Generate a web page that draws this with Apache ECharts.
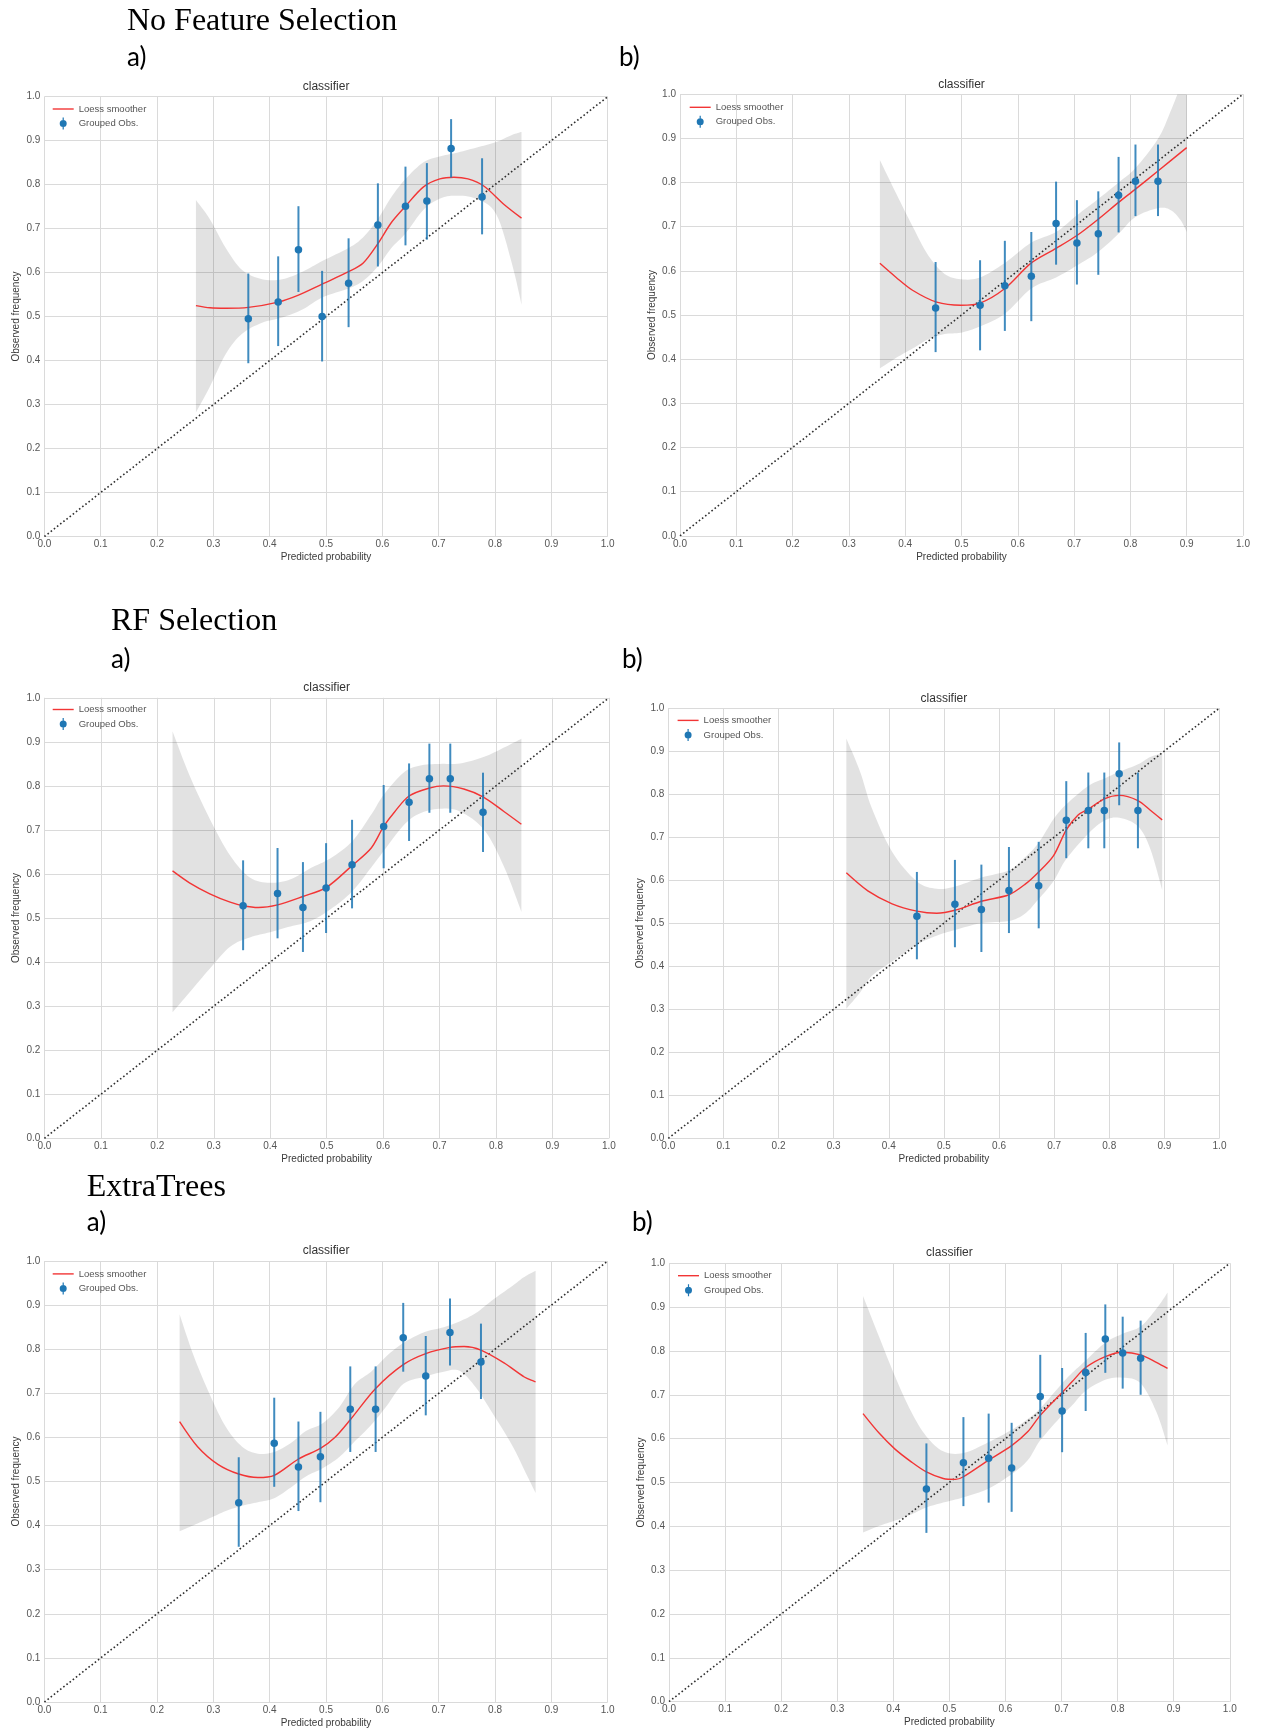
<!DOCTYPE html>
<html>
<head>
<meta charset="utf-8">
<script src="https://cdn.jsdelivr.net/npm/echarts@6/dist/echarts.min.js"></script>
<style>
html,body{margin:0;padding:0;background:#ffffff;}
#main{width:1261px;height:1728px;}
</style>
</head>
<body>
<div id="main"></div>
<script>
// ---------------- text ----------------
const sectionTitles = ['No Feature Selection', 'RF Selection', 'ExtraTrees'];
const panelLetters = ['a)', 'b)'];
const plotTitle = 'classifier';
const xAxisName = 'Predicted probability';
const yAxisName = 'Observed frequency';
const legendNames = ['Loess smoother', 'Grouped Obs.'];
const axisMin = 0, axisMax = 1, axisStep = 0.1;   // ticks 0.0 ... 1.0
const diagonal = [[0, 0], [1, 1]];

// ---------------- No Feature Selection a) ----------------
const nfsA_obsX  = [0.362, 0.415, 0.451, 0.493, 0.540, 0.592, 0.641, 0.679, 0.722, 0.777];
const nfsA_obsY  = [0.495, 0.533, 0.652, 0.500, 0.576, 0.708, 0.751, 0.763, 0.882, 0.772];
const nfsA_errLo = [0.394, 0.433, 0.556, 0.398, 0.476, 0.614, 0.662, 0.675, 0.816, 0.687];
const nfsA_errHi = [0.598, 0.637, 0.751, 0.604, 0.678, 0.803, 0.841, 0.849, 0.949, 0.860];
const nfsA_loessX = [0.269, 0.294, 0.322, 0.362, 0.415, 0.451, 0.493, 0.540, 0.566, 0.592, 0.616, 0.641, 0.673, 0.702, 0.727, 0.752, 0.780, 0.816, 0.847];
const nfsA_loessY = [0.525, 0.520, 0.519, 0.521, 0.533, 0.549, 0.574, 0.602, 0.622, 0.666, 0.714, 0.751, 0.795, 0.813, 0.817, 0.813, 0.797, 0.755, 0.724];
const nfsA_bandX  = [0.269, 0.2935, 0.322, 0.351, 0.3865, 0.422, 0.458, 0.494, 0.540, 0.5655, 0.592, 0.616, 0.641, 0.673, 0.7015, 0.730, 0.766, 0.802, 0.830, 0.847];
const nfsA_bandLo = [0.282, 0.340, 0.415, 0.461, 0.486, 0.498, 0.516, 0.544, 0.564, 0.581, 0.614, 0.656, 0.689, 0.743, 0.768, 0.775, 0.768, 0.733, 0.620, 0.527];
const nfsA_bandHi = [0.765, 0.722, 0.656, 0.606, 0.585, 0.585, 0.602, 0.627, 0.656, 0.680, 0.722, 0.772, 0.813, 0.851, 0.864, 0.872, 0.884, 0.897, 0.913, 0.920];

// ---------------- No Feature Selection b) ----------------
const nfsB_obsX  = [0.454, 0.533, 0.577, 0.624, 0.668, 0.705, 0.743, 0.779, 0.809, 0.849];
const nfsB_obsY  = [0.516, 0.522, 0.566, 0.588, 0.707, 0.663, 0.684, 0.771, 0.803, 0.803];
const nfsB_errLo = [0.416, 0.420, 0.464, 0.486, 0.614, 0.569, 0.591, 0.687, 0.724, 0.724];
const nfsB_errHi = [0.620, 0.624, 0.668, 0.688, 0.802, 0.760, 0.780, 0.858, 0.886, 0.886];
const nfsB_loessX = [0.355, 0.384, 0.413, 0.456, 0.499, 0.533, 0.577, 0.624, 0.668, 0.705, 0.743, 0.779, 0.809, 0.849, 0.900];
const nfsB_loessY = [0.617, 0.585, 0.556, 0.529, 0.522, 0.527, 0.560, 0.618, 0.651, 0.680, 0.717, 0.755, 0.785, 0.826, 0.879];
const nfsB_bandX  = [0.355, 0.384, 0.413, 0.441, 0.470, 0.499, 0.533, 0.577, 0.624, 0.668, 0.705, 0.743, 0.779, 0.809, 0.849, 0.871, 0.889, 0.900];
const nfsB_bandLo = [0.379, 0.403, 0.424, 0.445, 0.457, 0.460, 0.474, 0.503, 0.560, 0.585, 0.612, 0.643, 0.684, 0.722, 0.742, 0.738, 0.715, 0.688];
const nfsB_bandHi = [0.851, 0.775, 0.701, 0.635, 0.593, 0.581, 0.585, 0.618, 0.664, 0.688, 0.726, 0.763, 0.800, 0.833, 0.899, 0.960, 1.020, 1.070];

// ---------------- RF Selection a) ----------------
const rfA_obsX  = [0.352, 0.413, 0.458, 0.499, 0.545, 0.601, 0.646, 0.682, 0.719, 0.777];
const rfA_obsY  = [0.528, 0.556, 0.524, 0.568, 0.621, 0.708, 0.763, 0.816, 0.816, 0.740];
const rfA_errLo = [0.427, 0.454, 0.423, 0.466, 0.522, 0.613, 0.675, 0.739, 0.739, 0.650];
const rfA_errHi = [0.631, 0.659, 0.627, 0.670, 0.723, 0.802, 0.851, 0.896, 0.896, 0.830];
const rfA_loessX = [0.227, 0.257, 0.293, 0.329, 0.352, 0.379, 0.413, 0.458, 0.499, 0.545, 0.579, 0.601, 0.621, 0.646, 0.682, 0.707, 0.743, 0.777, 0.814, 0.845];
const rfA_loessY = [0.607, 0.580, 0.555, 0.536, 0.528, 0.524, 0.530, 0.549, 0.569, 0.619, 0.659, 0.708, 0.742, 0.777, 0.795, 0.800, 0.793, 0.775, 0.742, 0.713];
const rfA_bandX  = [0.227, 0.257, 0.293, 0.329, 0.364, 0.400, 0.436, 0.471, 0.507, 0.545, 0.579, 0.601, 0.636, 0.664, 0.700, 0.736, 0.779, 0.814, 0.845];
const rfA_bandLo = [0.286, 0.331, 0.385, 0.435, 0.456, 0.468, 0.481, 0.493, 0.520, 0.560, 0.615, 0.652, 0.710, 0.737, 0.748, 0.742, 0.700, 0.617, 0.514];
const rfA_bandHi = [0.924, 0.824, 0.725, 0.642, 0.592, 0.580, 0.588, 0.613, 0.636, 0.674, 0.735, 0.780, 0.830, 0.846, 0.850, 0.851, 0.866, 0.887, 0.907];

// ---------------- RF Selection b) ----------------
const rfB_obsX  = [0.451, 0.520, 0.568, 0.618, 0.672, 0.722, 0.762, 0.791, 0.818, 0.852];
const rfB_obsY  = [0.516, 0.544, 0.532, 0.576, 0.587, 0.739, 0.762, 0.762, 0.847, 0.762];
const rfB_errLo = [0.416, 0.444, 0.433, 0.477, 0.488, 0.651, 0.674, 0.674, 0.774, 0.674];
const rfB_errHi = [0.619, 0.647, 0.636, 0.677, 0.689, 0.830, 0.850, 0.850, 0.920, 0.850];
const rfB_loessX = [0.323, 0.362, 0.406, 0.451, 0.487, 0.520, 0.568, 0.618, 0.647, 0.672, 0.699, 0.722, 0.743, 0.762, 0.791, 0.818, 0.852, 0.874, 0.896];
const rfB_loessY = [0.617, 0.575, 0.545, 0.528, 0.523, 0.530, 0.551, 0.566, 0.590, 0.619, 0.657, 0.717, 0.751, 0.765, 0.789, 0.797, 0.785, 0.763, 0.740];
const rfB_bandX  = [0.323, 0.348, 0.369, 0.406, 0.451, 0.487, 0.520, 0.568, 0.618, 0.647, 0.672, 0.699, 0.722, 0.762, 0.791, 0.818, 0.852, 0.874, 0.896];
const rfB_bandLo = [0.301, 0.339, 0.377, 0.411, 0.450, 0.471, 0.484, 0.500, 0.505, 0.522, 0.556, 0.598, 0.649, 0.708, 0.738, 0.745, 0.725, 0.674, 0.577];
const rfB_bandHi = [0.929, 0.852, 0.768, 0.666, 0.597, 0.580, 0.585, 0.606, 0.623, 0.653, 0.687, 0.742, 0.776, 0.819, 0.836, 0.852, 0.869, 0.886, 0.895];

// ---------------- ExtraTrees a) ----------------
const etA_obsX  = [0.345, 0.408, 0.451, 0.490, 0.543, 0.588, 0.637, 0.677, 0.720, 0.775];
const etA_obsY  = [0.452, 0.587, 0.533, 0.556, 0.664, 0.664, 0.826, 0.739, 0.838, 0.771];
const etA_errLo = [0.352, 0.488, 0.433, 0.453, 0.567, 0.567, 0.749, 0.650, 0.763, 0.687];
const etA_errHi = [0.555, 0.690, 0.636, 0.658, 0.761, 0.761, 0.905, 0.830, 0.915, 0.858];
const etA_loessX = [0.240, 0.272, 0.308, 0.345, 0.379, 0.408, 0.451, 0.490, 0.515, 0.543, 0.588, 0.637, 0.677, 0.720, 0.745, 0.775, 0.816, 0.852, 0.872];
const etA_loessY = [0.636, 0.579, 0.539, 0.517, 0.509, 0.514, 0.551, 0.575, 0.599, 0.640, 0.711, 0.765, 0.790, 0.804, 0.806, 0.798, 0.769, 0.737, 0.726];
const etA_bandX  = [0.240, 0.265, 0.294, 0.322, 0.351, 0.379, 0.408, 0.437, 0.465, 0.494, 0.523, 0.551, 0.580, 0.608, 0.637, 0.673, 0.709, 0.737, 0.766, 0.795, 0.830, 0.852, 0.872];
const etA_bandLo = [0.387, 0.401, 0.417, 0.433, 0.445, 0.453, 0.462, 0.486, 0.512, 0.530, 0.555, 0.591, 0.628, 0.672, 0.721, 0.737, 0.749, 0.751, 0.713, 0.656, 0.583, 0.526, 0.474];
const etA_bandHi = [0.879, 0.785, 0.696, 0.624, 0.579, 0.563, 0.567, 0.587, 0.615, 0.632, 0.668, 0.721, 0.749, 0.785, 0.814, 0.838, 0.850, 0.863, 0.882, 0.911, 0.943, 0.964, 0.978];

// ---------------- ExtraTrees b) ----------------
const etB_obsX  = [0.459, 0.525, 0.570, 0.611, 0.662, 0.701, 0.743, 0.778, 0.809, 0.841];
const etB_obsY  = [0.485, 0.545, 0.555, 0.533, 0.696, 0.663, 0.751, 0.827, 0.795, 0.783];
const etB_errLo = [0.385, 0.446, 0.454, 0.433, 0.602, 0.569, 0.663, 0.750, 0.714, 0.700];
const etB_errHi = [0.589, 0.649, 0.657, 0.636, 0.791, 0.761, 0.841, 0.906, 0.878, 0.869];
const etB_loessX = [0.346, 0.375, 0.403, 0.432, 0.459, 0.489, 0.511, 0.525, 0.570, 0.611, 0.640, 0.662, 0.701, 0.719, 0.743, 0.778, 0.809, 0.841, 0.869, 0.889];
const etB_loessY = [0.657, 0.612, 0.576, 0.547, 0.524, 0.509, 0.507, 0.513, 0.551, 0.584, 0.616, 0.653, 0.705, 0.730, 0.762, 0.787, 0.797, 0.791, 0.774, 0.760];
const etB_bandX  = [0.346, 0.375, 0.403, 0.432, 0.459, 0.489, 0.525, 0.570, 0.611, 0.640, 0.662, 0.701, 0.719, 0.743, 0.778, 0.809, 0.841, 0.869, 0.889];
const etB_bandLo = [0.386, 0.401, 0.413, 0.427, 0.443, 0.454, 0.466, 0.486, 0.519, 0.551, 0.596, 0.653, 0.676, 0.709, 0.734, 0.739, 0.726, 0.661, 0.584];
const etB_bandHi = [0.925, 0.831, 0.742, 0.661, 0.605, 0.571, 0.567, 0.592, 0.620, 0.645, 0.669, 0.726, 0.750, 0.778, 0.819, 0.839, 0.856, 0.896, 0.933];

// ---------------- assemble (references to the arrays above) ----------------
const panels = [
  {obsX: nfsA_obsX, obsY: nfsA_obsY, lo: nfsA_errLo, hi: nfsA_errHi, lx: nfsA_loessX, ly: nfsA_loessY, bx: nfsA_bandX, bl: nfsA_bandLo, bh: nfsA_bandHi},
  {obsX: nfsB_obsX, obsY: nfsB_obsY, lo: nfsB_errLo, hi: nfsB_errHi, lx: nfsB_loessX, ly: nfsB_loessY, bx: nfsB_bandX, bl: nfsB_bandLo, bh: nfsB_bandHi},
  {obsX: rfA_obsX, obsY: rfA_obsY, lo: rfA_errLo, hi: rfA_errHi, lx: rfA_loessX, ly: rfA_loessY, bx: rfA_bandX, bl: rfA_bandLo, bh: rfA_bandHi},
  {obsX: rfB_obsX, obsY: rfB_obsY, lo: rfB_errLo, hi: rfB_errHi, lx: rfB_loessX, ly: rfB_loessY, bx: rfB_bandX, bl: rfB_bandLo, bh: rfB_bandHi},
  {obsX: etA_obsX, obsY: etA_obsY, lo: etA_errLo, hi: etA_errHi, lx: etA_loessX, ly: etA_loessY, bx: etA_bandX, bl: etA_bandLo, bh: etA_bandHi},
  {obsX: etB_obsX, obsY: etB_obsY, lo: etB_errLo, hi: etB_errHi, lx: etB_loessX, ly: etB_loessY, bx: etB_bandX, bl: etB_bandLo, bh: etB_bandHi}
];

// ---------------- layout (pixels) ----------------
const gridBoxes = [
  [44.4, 96.7, 563.3, 439.8],
  [680, 94.2, 563, 441.6],
  [44.4, 697.8, 564.5, 440.5],
  [668.3, 708, 551.2, 430.3],
  [44.4, 1261, 563.3, 441],
  [669, 1263.2, 560.8, 438.5]
];
const titleY = [86.5, 84.7, 687.6, 698.5, 1251.1, 1252.9];
const legendPos = [[52.7, 103], [689.7, 101.3], [52.7, 703.5], [677.6, 714.4], [52.7, 1267.9], [678, 1269.7]];
const sectionPos = [[127, 21.5], [111, 622], [86.7, 1188]];
const letterPos = [[127, 58], [619, 58], [111, 660], [622, 660], [86.7, 1222.5], [632, 1222.5]];

const SANS = '"Liberation Sans", Arial, sans-serif';
const zip = (a, b) => a.map((v, i) => [v, b[i]]);
const fmt = v => v.toFixed(1);
const obsIcon = 'path://M4.4,0H5.6V12H4.4Z M5,2.5A3.5,3.5,0,1,1,5,9.5A3.5,3.5,0,1,1,5,2.5Z';
const lineIcon = 'path://M0,0H21V1.4H0Z';

// smooth drawing of a band edge (Catmull-Rom through the projected pixel points)
function smoothPixels(pts, steps) {
  const out = [];
  const n = pts.length;
  for (let i = 0; i < n - 1; i++) {
    const p0 = pts[Math.max(i - 1, 0)], p1 = pts[i], p2 = pts[i + 1], p3 = pts[Math.min(i + 2, n - 1)];
    for (let s = 0; s < steps; s++) {
      const t = s / steps, t2 = t * t, t3 = t2 * t;
      const f = (a, b, c, d) => 0.5 * (2 * b + (-a + c) * t + (2 * a - 5 * b + 4 * c - d) * t2 + (-a + 3 * b - 3 * c + d) * t3);
      out.push([f(p0[0], p1[0], p2[0], p3[0]), f(p0[1], p1[1], p2[1], p3[1])]);
    }
  }
  out.push(pts[n - 1]);
  return out;
}

function bandRenderer(p) {
  return function (params, api) {
    if (params.dataIndex !== 0) return null;
    const up = p.bx.map((x, k) => api.coord([x, p.bh[k]]));
    const dn = p.bx.map((x, k) => api.coord([x, p.bl[k]]));
    const pts = smoothPixels(up, 8).concat(smoothPixels(dn, 8).reverse());
    const cs = params.coordSys;
    return {
      type: 'polygon',
      shape: {points: pts},
      style: {fill: 'rgba(0,0,0,0.115)', stroke: null},
      clipPath: {type: 'rect', shape: {x: cs.x, y: cs.y, width: cs.width, height: cs.height}}
    };
  };
}

const grid = [], xAxis = [], yAxis = [], series = [], legend = [], graphic = [];

gridBoxes.forEach((g, i) => {
  grid.push({left: g[0], top: g[1], width: g[2], height: g[3], containLabel: false, outerBoundsMode: 'none'});
  const common = {
    type: 'value', gridIndex: i, min: axisMin, max: axisMax, interval: axisStep,
    nameLocation: 'middle',
    nameTextStyle: {fontSize: 10, color: '#3a3a3a', fontFamily: SANS},
    axisLine: {show: false}, axisTick: {show: false},
    splitLine: {show: true, showMinLine: true, showMaxLine: true, lineStyle: {color: '#dadada', width: 1}},
    splitArea: {show: false}
  };
  xAxis.push(Object.assign({}, common, {
    name: xAxisName, nameGap: 16,
    axisLabel: {fontSize: 10, color: '#555', fontFamily: SANS, margin: 3, formatter: fmt, hideOverlap: false}
  }));
  yAxis.push(Object.assign({}, common, {
    name: yAxisName, nameGap: 23, nameRotate: 90,
    axisLabel: {fontSize: 10, color: '#555', fontFamily: SANS, margin: 4, formatter: fmt, hideOverlap: false}
  }));

  const p = panels[i];
  // confidence band
  series.push({
    type: 'custom', xAxisIndex: i, yAxisIndex: i, silent: true, clip: true,
    data: p.bx.map((x, k) => [x, p.bl[k], p.bh[k]]),
    encode: {x: 0, y: [1, 2]},
    renderItem: bandRenderer(p), z: 1
  });
  // perfect calibration diagonal
  series.push({
    type: 'line', xAxisIndex: i, yAxisIndex: i, silent: true,
    data: diagonal, symbol: 'none',
    lineStyle: {color: '#2e2e2e', width: 1.6, type: [1.6, 2.4]}, z: 3
  });
  // loess smoother
  series.push({
    name: legendNames[0], type: 'line', xAxisIndex: i, yAxisIndex: i, silent: true,
    data: zip(p.lx, p.ly), symbol: 'none', smooth: 0.3,
    itemStyle: {color: '#f23535'},
    lineStyle: {color: '#f23535', width: 1.4}, z: 4
  });
  // error bars
  series.push({
    type: 'custom', xAxisIndex: i, yAxisIndex: i, silent: true,
    data: p.obsX.map((x, k) => [x, p.lo[k], p.hi[k]]),
    encode: {x: 0, y: [1, 2]},
    renderItem: function (params, api) {
      const a = api.coord([api.value(0), api.value(1)]);
      const b = api.coord([api.value(0), api.value(2)]);
      return {type: 'line', shape: {x1: a[0], y1: a[1], x2: b[0], y2: b[1]},
              style: {stroke: 'rgba(31,119,180,0.85)', lineWidth: 2}};
    }, z: 5
  });
  // grouped observations
  series.push({
    name: legendNames[1], type: 'scatter', xAxisIndex: i, yAxisIndex: i, silent: true,
    data: zip(p.obsX, p.obsY), symbol: 'circle', symbolSize: 7.5,
    itemStyle: {color: '#1f77b4', opacity: 1}, z: 6
  });

  legend.push({
    orient: 'vertical', left: legendPos[i][0], top: legendPos[i][1], padding: 0,
    itemWidth: 21, itemHeight: 12, itemGap: 2.5, selectedMode: false,
    textStyle: {fontSize: 9.5, color: '#555', fontFamily: SANS, lineHeight: 12},
    data: [{name: legendNames[0], icon: lineIcon}, {name: legendNames[1], icon: obsIcon}]
  });

  graphic.push({
    type: 'text', x: g[0] + g[2] / 2, y: titleY[i], silent: true,
    style: {text: plotTitle, fill: '#333', fontSize: 12, fontFamily: SANS,
            align: 'center', verticalAlign: 'middle', textAlign: 'center', textVerticalAlign: 'middle'}
  });
  graphic.push({
    type: 'text', x: letterPos[i][0], y: letterPos[i][1], silent: true,
    style: {text: panelLetters[i % 2], fill: '#000', fontSize: 26, fontFamily: 'Lato, "Open Sans", sans-serif',
            align: 'left', verticalAlign: 'middle', textAlign: 'left', textVerticalAlign: 'middle'}
  });
});

sectionTitles.forEach((t, r) => {
  graphic.push({
    type: 'text', x: sectionPos[r][0], y: sectionPos[r][1], silent: true,
    style: {text: t, fill: '#000', fontSize: 32, fontFamily: '"Liberation Serif", "Times New Roman", serif',
            align: 'left', verticalAlign: 'middle', textAlign: 'left', textVerticalAlign: 'middle'}
  });
});

const chart = echarts.init(document.getElementById('main'), null, {renderer: 'canvas'});
chart.setOption({
  backgroundColor: '#ffffff',
  animation: false,
  grid, xAxis, yAxis, series, legend, graphic,
  tooltip: {show: false}
});
</script>
</body>
</html>
